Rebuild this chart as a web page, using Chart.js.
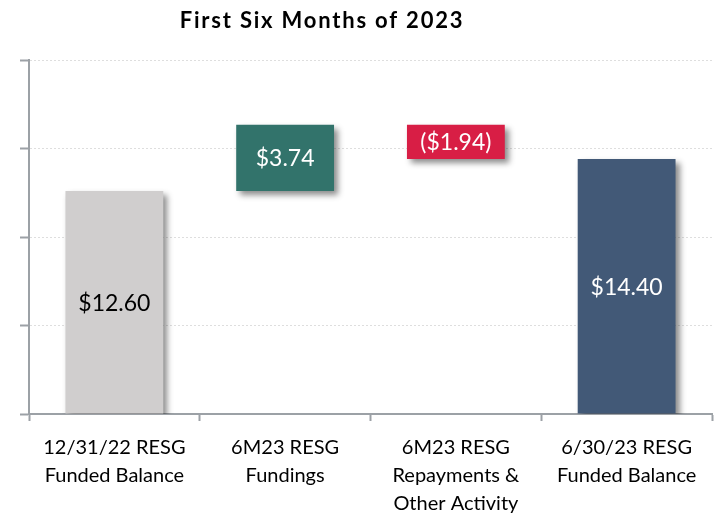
<!DOCTYPE html>
<html>
<head>
<meta charset="utf-8">
<script src="https://cdn.jsdelivr.net/npm/chart.js@4"></script>
<style>
  html, body { margin: 0; padding: 0; background: #fff; }
  #wrap { width: 724px; height: 513px; }
</style>
</head>
<body>
<div id="wrap"><canvas id="c" width="724" height="513"></canvas></div>
<script>
const titleText = 'First Six Months of 2023';
const categories = [
  ['12/31/22 RESG', 'Funded Balance'],
  ['6M23 RESG', 'Fundings'],
  ['6M23 RESG', 'Repayments &', 'Other Activity'],
  ['6/30/23 RESG', 'Funded Balance']
];
const amounts = [12.60, 3.74, -1.94, 14.40];
const isTotal = [true, false, false, true];
const barColors = ['#D0CECE', '#32736B', '#D81E45', '#425977'];
const labelColors = ['#000000', '#FFFFFF', '#FFFFFF', '#FFFFFF'];
const yTicks = [0, 5, 10, 15, 20];

// Build floating waterfall ranges from the amounts
let running = 0;
const ranges = amounts.map((v, i) => {
  if (isTotal[i]) { running = v; return [0, v]; }
  const start = running;
  running = running + v;
  return [Math.min(start, running), Math.max(start, running)];
});
const valueLabels = amounts.map(v => v < 0 ? '($' + Math.abs(v).toFixed(2) + ')' : '$' + v.toFixed(2));

const shadowPlugin = {
  id: 'shadow',
  beforeDatasetsDraw(chart) {
    const ctx = chart.ctx;
    ctx.save();
    ctx.shadowColor = 'rgba(0,0,0,0.45)';
    ctx.shadowBlur = 6;
    ctx.shadowOffsetX = 4;
    ctx.shadowOffsetY = 4;
  },
  afterDatasetsDraw(chart) {
    chart.ctx.restore();
    const ctx = chart.ctx;
    const meta = chart.getDatasetMeta(0);
    ctx.save();
    ctx.font = '23px Lato';
    ctx.textAlign = 'center';
    ctx.textBaseline = 'middle';
    meta.data.forEach((bar, i) => {
      const p = bar.getProps(['x', 'y', 'base'], true);
      ctx.fillStyle = labelColors[i];
      ctx.fillText(valueLabels[i], p.x, (p.y + p.base) / 2 + 1);
    });
    ctx.restore();
  },
  afterDraw(chart) {
    const ctx = chart.ctx;
    ctx.save();
    ctx.font = 'bold 22px Lato';
    if ('letterSpacing' in ctx) ctx.letterSpacing = '1.8px';
    ctx.fillStyle = '#000';
    ctx.textAlign = 'center';
    ctx.textBaseline = 'middle';
    ctx.fillText(titleText, chart.width / 2 - 40, 21);
    ctx.restore();
  }
};

new Chart(document.getElementById('c'), {
  type: 'bar',
  data: {
    labels: categories,
    datasets: [{
      data: ranges,
      backgroundColor: barColors,
      borderWidth: 0,
      borderSkipped: false,
      categoryPercentage: 1,
      barPercentage: 0.573
    }]
  },
  options: {
    responsive: false,
    animation: false,
    devicePixelRatio: 1,
    layout: { padding: { top: 60, left: 20, right: 12, bottom: 0 } },
    plugins: { legend: { display: false }, tooltip: { enabled: false }, title: { display: false } },
    scales: {
      x: {
        afterFit(scale) { scale.height = 99; },
        grid: {
          offset: true,
          drawOnChartArea: false,
          drawTicks: true,
          tickLength: 7,
          tickColor: '#9CA1A6',
          tickWidth: 2
        },
        border: { color: '#9CA1A6', width: 2 },
        ticks: {
          color: '#000',
          font: { family: 'Lato', size: 20, lineHeight: 1.4 },
          padding: 13,
          maxRotation: 0,
          autoSkip: false
        }
      },
      y: {
        min: 0,
        max: 20,
        afterBuildTicks(scale) { scale.ticks = yTicks.map(v => ({ value: v })); },
        grid: {
          color: 'rgba(0,0,0,0.13)',
          lineWidth: 1,
          drawTicks: true,
          tickLength: 9,
          tickColor: '#9CA1A6',
          tickWidth: 2,
          tickBorderDash: []
        },
        border: { color: '#9CA1A6', width: 2, dash: [2, 2] },
        ticks: { display: false }
      }
    }
  },
  plugins: [shadowPlugin]
});
</script>
</body>
</html>
